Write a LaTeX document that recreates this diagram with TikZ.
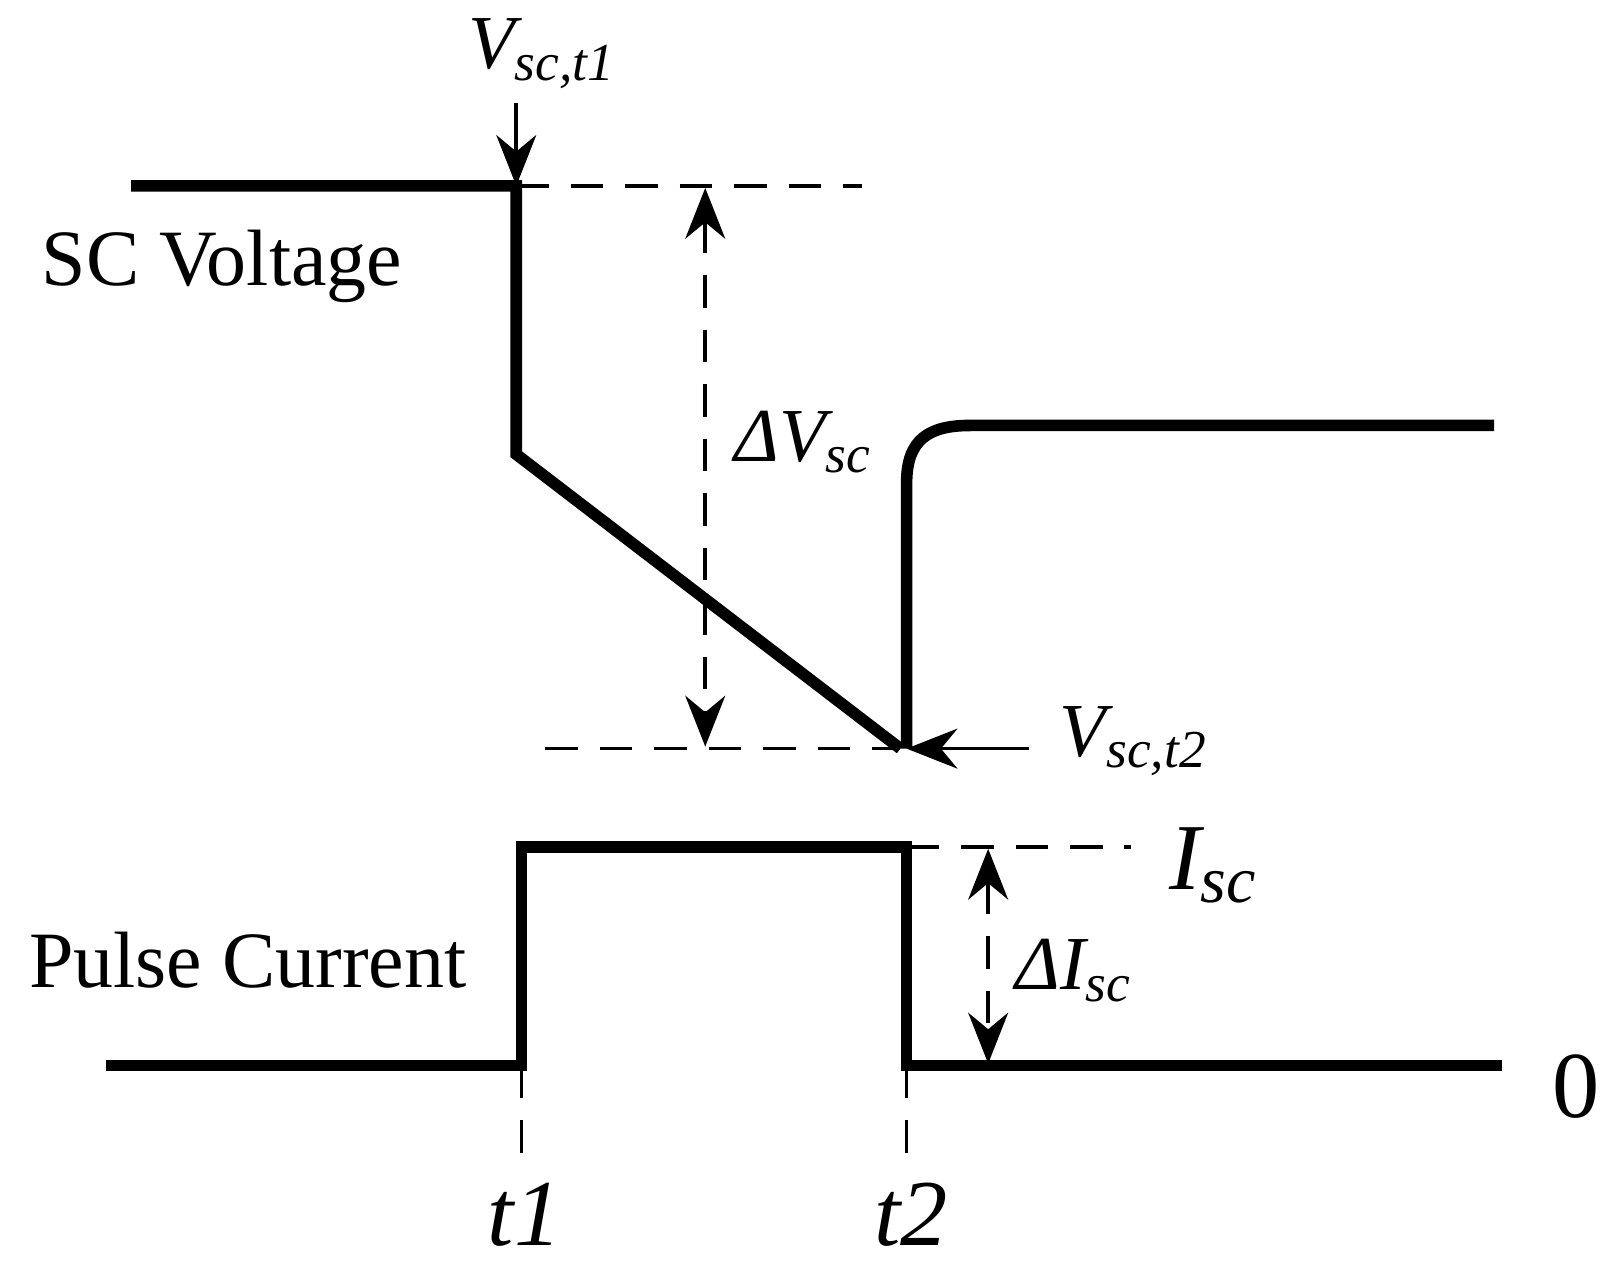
\documentclass[tikz,border=0pt]{standalone}
\usepackage{fontspec}
\setmainfont{Liberation Serif}
\usetikzlibrary{arrows.meta}
\begin{document}
\begin{tikzpicture}[x=0.01cm,y=-0.01cm,
  sig/.style={line width=3.2pt},
  dsh/.style={line width=1pt,dash pattern=on 9pt off 6pt},
  arr/.style={line width=1pt,-{Stealth[length=14pt,width=11pt]}},
  darr/.style={dsh,{Stealth[length=14pt,width=11pt]}-{Stealth[length=14pt,width=11pt]}},
  lbl/.style={font=\fontsize{21}{25}\selectfont\itshape},
  big/.style={font=\fontsize{22}{26}\selectfont}]
\useasboundingbox (0,0) rectangle (1566,1226);
\coordinate (v0) at (127,180); \coordinate (v1) at (500,180);
\coordinate (v2) at (500,440); \coordinate (v3) at (872,725);
\coordinate (v4) at (878,725); \coordinate (v5) at (878,468);
\coordinate (v6) at (940,412); \coordinate (v7) at (1447,412);
\coordinate (c0) at (103,1032); \coordinate (c1) at (505,1032);
\coordinate (c2) at (505,820); \coordinate (c3) at (878,820);
\coordinate (c4) at (878,1032); \coordinate (c5) at (1455,1032);
\draw[sig,line join=miter] (v0) -- (v1) -- (v2) -- (v3);
\draw[sig] (v4) -- (v5) .. controls (878,425) and (900,412) .. (v6) -- (v7);
\draw[sig,line join=miter] (c0) -- (c1) -- (c2) -- (c3) -- (c4) -- (c5);
\coordinate (d1) at (835,180); \coordinate (d2) at (528,725);
\coordinate (d3) at (1095,820);
\coordinate (t1b) at (505,1120); \coordinate (t2b) at (878,1120);
\draw[dsh] (v1) -- (d1);
\draw[dsh] (d2) -- (v3);
\draw[dsh] (c3) -- (d3);
\draw[dsh] (c1) -- (t1b);
\draw[dsh] (c4) -- (t2b);
\draw[darr] (683,182) -- (683,723);
\draw[darr] (957,822) -- (957,1030);
\coordinate (a1) at (500,100); \coordinate (a2) at (997,725);
\draw[arr] (a1) -- (v1);
\draw[arr] (a2) -- (v4);
\node[lbl] (l1) at (525,52) {V\textsubscript{sc,t1}};
\node[lbl] (l2) at (1098,718) {V\textsubscript{sc,t2}};
\node[lbl] (l3) at (778,428) {ΔV\textsubscript{sc}};
\node[lbl] (l4) at (1175,838) {\fontsize{26}{30}\selectfont I\textsubscript{sc}};
\node[lbl] (l5) at (1040,940) {ΔI\textsubscript{sc}};
\node[big] (l6) at (1526,1052) {\fontsize{26}{30}\selectfont 0};
\node[lbl] (l7) at (508,1176) {\fontsize{26}{30}\selectfont t1};
\node[lbl] (l8) at (882,1176) {\fontsize{26}{30}\selectfont t2};
\node[big] (l9) at (215,258) {SC Voltage};
\node[big] (l10) at (240,930) {Pulse Current};
\end{tikzpicture}
\end{document}
